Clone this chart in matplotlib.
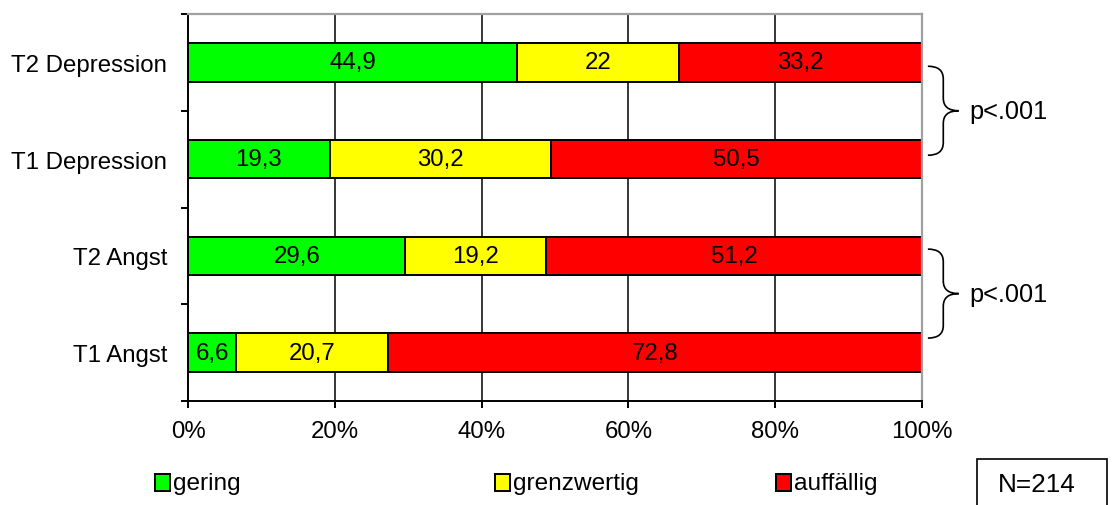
import matplotlib
matplotlib.use("Agg")
import matplotlib.pyplot as plt
from matplotlib.path import Path
from matplotlib.patches import PathPatch, Rectangle
import matplotlib.transforms as mtransforms
import numpy as np

plt.rcParams['font.family'] = ['Liberation Sans', 'DejaVu Sans']

# Rows from bottom to top
categories = ["T1 Angst", "T2 Angst", "T1 Depression", "T2 Depression"]
series_names = ["gering", "grenzwertig", "auffällig"]
gering = [6.6, 29.6, 19.3, 44.9]
grenzwertig = [20.7, 19.2, 30.2, 22.0]
auffaellig = [72.8, 51.2, 50.5, 33.2]
series_colors = ["#00FF00", "#FFFF00", "#FF0000"]
x_ticks = [0, 20, 40, 60, 80, 100]
x_tick_labels = ["0%", "20%", "40%", "60%", "80%", "100%"]
significance = ["p<.001", "p<.001"]
sample_note = "N=214"

W, H = 1114, 506
fig = plt.figure(figsize=(W / 100, H / 100), dpi=100)
ax = fig.add_axes([188 / W, 1 - 402 / H, (922 - 188) / W, (402 - 15) / H])

values = np.array([gering, grenzwertig, auffaellig])
shares = values / values.sum(axis=0) * 100
y = np.arange(len(categories))

ax.set_xlim(0, 100)
ax.set_ylim(-0.5, len(categories) - 0.5)

# vertical grid behind the bars
for gx in x_ticks[1:-1]:
    ax.axvline(gx, color="black", lw=1.1, zorder=0)

FS = 17.3

left = np.zeros(len(categories))
for k in range(len(series_names)):
    bars = ax.barh(y, shares[k], left=left, height=0.4, color=series_colors[k],
                   edgecolor="black", linewidth=1.4, zorder=2)
    for i, b in enumerate(bars):
        label = f"{values[k][i]:g}".replace(".", ",")
        ax.text(left[i] + shares[k][i] / 2, y[i], label, ha="center", va="center",
                fontsize=FS, zorder=3)
    left += shares[k]

# axes styling
for side in ["top", "right"]:
    ax.spines[side].set_color("#A0A0A0")
    ax.spines[side].set_linewidth(1.6)
for side in ["left", "bottom"]:
    ax.spines[side].set_color("black")
    ax.spines[side].set_linewidth(1.4)

ax.set_xticks(x_ticks)
ax.set_xticklabels(x_tick_labels, fontsize=FS)
ax.tick_params(axis="x", direction="out", length=5, width=1.4, pad=9)
ax.set_yticks(y)
ax.set_yticklabels(categories, fontsize=FS)
ax.tick_params(axis="y", which="major", length=0, pad=15)
ax.set_yticks(np.arange(-0.5, len(categories)), minor=True)
ax.tick_params(axis="y", which="minor", direction="out", length=5, width=1.4)


def draw_brace(ax, ytop, ybot, x0=1.008, xm=1.029, xt=1.050, r=0.13):
    ymid = (ytop + ybot) / 2
    verts = [
        (x0, ytop), (xm, ytop), (xm, ytop - r),
        (xm, ymid + r), (xm, ymid), (xt, ymid),
        (xm, ymid), (xm, ymid - r),
        (xm, ybot + r), (xm, ybot), (x0, ybot),
    ]
    codes = [Path.MOVETO, Path.CURVE3, Path.CURVE3,
             Path.LINETO, Path.CURVE3, Path.CURVE3,
             Path.CURVE3, Path.CURVE3,
             Path.LINETO, Path.CURVE3, Path.CURVE3]
    trans = mtransforms.blended_transform_factory(ax.transAxes, ax.transData)
    patch = PathPatch(Path(verts, codes), facecolor="none", edgecolor="black",
                      lw=1.2, transform=trans, clip_on=False)
    ax.add_patch(patch)
    return trans, ymid


brace_spans = [(2.96, 2.04), (1.07, 0.15)]
for (ytop, ybot), txt in zip(brace_spans, significance):
    trans, ymid = draw_brace(ax, ytop, ybot)
    ax.text(1.064, ymid, txt, transform=trans, ha="left", va="center", fontsize=18.3)

# legend entries below the plot
legend_x = [155, 495, 776]
for xpix, name, col in zip(legend_x, series_names, series_colors):
    fig.add_artist(Rectangle((xpix / W, 1 - 492 / H), 15 / W, 17 / H, transform=fig.transFigure,
                             facecolor=col, edgecolor="black", lw=1.4))
    fig.text((xpix + 18) / W, 1 - 484 / H, name, ha="left", va="center", fontsize=17.6)

# sample size box
fig.add_artist(Rectangle((977 / W, -0.02), (1107 - 977) / W, 0.02 + 1 - 460 / H,
                         transform=fig.transFigure, facecolor="white", edgecolor="black", lw=1.2))
fig.text(1037 / W, 1 - 485 / H, sample_note, ha="center", va="center", fontsize=18.8)

fig.savefig("out.png", dpi=100)
